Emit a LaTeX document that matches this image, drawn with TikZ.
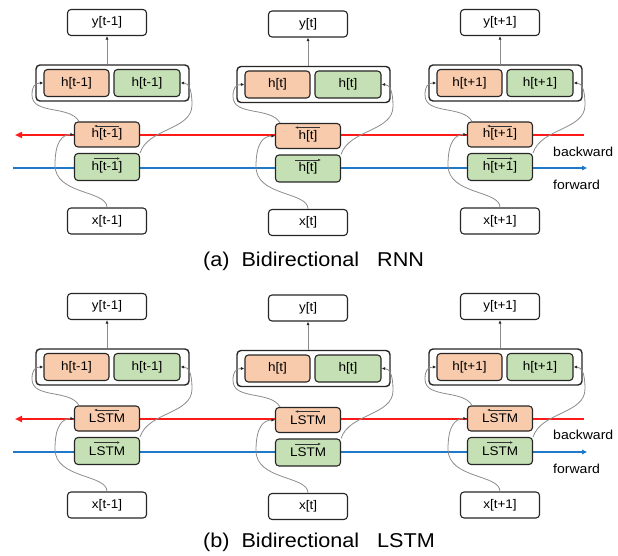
\documentclass[tikz,border=0pt]{standalone}
\usepackage{fontspec}
\setmainfont{Liberation Sans}[FakeStretch=1.08]
\usetikzlibrary{arrows.meta}
\definecolor{orf}{HTML}{F8CBAD}
\definecolor{grf}{HTML}{C5E0B4}
\definecolor{redl}{HTML}{FF1A1A}
\definecolor{bluel}{HTML}{1F78C8}
\definecolor{connc}{HTML}{8C8C8C}
\tikzset{
  box/.style={draw=black!85, line width=1.1pt, rounded corners=3.5pt, minimum width=79pt, minimum height=26pt, inner sep=0pt, fill=white, font=\fontsize{12.5}{14}\selectfont},
  outerbox/.style={draw=black!85, line width=1.4pt, rounded corners=4pt, minimum width=153pt, minimum height=36pt, inner sep=0pt, fill=white},
  obox/.style={box, fill=orf, minimum width=65pt, minimum height=27pt},
  gbox/.style={box, fill=grf, minimum width=66pt, minimum height=27pt},
  conn/.style={draw=connc, line width=0.8pt, -{Latex[length=3.5pt,width=3pt,color=black!85]}},
  dirarrow/.style={draw=black!80, line width=0.6pt, -{Latex[length=3pt,width=2.6pt]}},
  redline/.style={draw=redl, line width=1.8pt, -{Triangle[length=7pt,width=6pt]}},
  blueline/.style={draw=bluel, line width=1.8pt, -{Triangle[length=5pt,width=4.5pt]}},
  sidelabel/.style={anchor=west, inner sep=0pt, font=\fontsize{13}{15}\selectfont},
  caption/.style={anchor=west, inner sep=0pt, font=\fontsize{20}{23}\selectfont}
}
\newcommand\cellcol[8]{%
  \node[box] (y#1) at ({#2},{#3+22.5}) {#4};
  \node[outerbox] (out#1) at ({#2+5.5},{#3+83}) {};
  \node[obox] (ho#1) at ({#2-30.5},{#3+83}) {#5};
  \node[gbox] (hg#1) at ({#2+40},{#3+83}) {#5};
  \node[obox, minimum height=25pt] (bw#1) at ({#2},{#3+134.5}) {#7};
  \node[gbox, minimum width=65pt] (fw#1) at ({#2},{#3+167}) {#8};
  \node[box] (x#1) at ({#2},{#3+221}) {#6};
  \draw[dirarrow] ({#2+12},{#3+126}) -- ({#2-13},{#3+126});
  \draw[dirarrow] ({#2-13},{#3+158.5}) -- ({#2+13},{#3+158.5});
  \draw[conn] (out#1.north -| y#1.south) -- (y#1.south);
  \draw[conn] (x#1.north) .. controls ({#2},{#3+190}) and ({#2-52},{#3+195}) .. ({#2-52},{#3+165}) .. controls ({#2-52},{#3+142}) and ({#2-45},{#3+134.5}) .. (bw#1.west);
  \draw[conn] (bw#1.155) .. controls ({#2-37},{#3+105}) and ({#2-75},{#3+115}) .. ({#2-75},{#3+95}) .. controls ({#2-75},{#3+86}) and ({#2-72},{#3+83}) .. (ho#1.west);
  \draw[conn] (fw#1.north east) .. controls ({#2+41},{#3+128}) and ({#2+85},{#3+130}) .. ({#2+85},{#3+105}) .. controls ({#2+85},{#3+90}) and ({#2+82},{#3+83}) .. (hg#1.east);
}
\newcommand\lowtxt[1]{\raisebox{-1pt}{#1}}
\begin{document}
\begin{tikzpicture}[x=1pt,y=-1pt]
\useasboundingbox (0,0) rectangle (618,556);
% panel (a) lines
\coordinate (ra1) at (584,135);
\coordinate (ra2) at (15,135);
\coordinate (ba1) at (13,168);
\coordinate (ba2) at (587,168);
\draw[redline] (ra1) -- (ra2);
\draw[blueline] (ba1) -- (ba2);
\cellcol{1}{107}{0}{y[t-1]}{h[t-1]}{x[t-1]}{\lowtxt{h[t-1]}}{\lowtxt{h[t-1]}}
\cellcol{2}{308}{1.5}{y[t]}{h[t]}{x[t]}{\lowtxt{h[t]}}{\lowtxt{h[t]}}
\cellcol{3}{500}{0}{y[t+1]}{h[t+1]}{x[t+1]}{\lowtxt{h[t+1]}}{\lowtxt{h[t+1]}}
\node[sidelabel] (bwla) at (553,152) {backward};
\node[sidelabel] (fwla) at (553,185) {forward};
\node[caption] (capa) at (203,261) {(a)\hspace{12pt}Bidirectional\hspace{18pt}RNN};
% panel (b) lines
\coordinate (rb1) at (584,419);
\coordinate (rb2) at (15,419);
\coordinate (bb1) at (13,452);
\coordinate (bb2) at (587,452);
\draw[redline] (rb1) -- (rb2);
\draw[blueline] (bb1) -- (bb2);
\cellcol{4}{107}{284}{y[t-1]}{h[t-1]}{x[t-1]}{\lowtxt{LSTM}}{\lowtxt{LSTM}}
\cellcol{5}{308}{285.5}{y[t]}{h[t]}{x[t]}{\lowtxt{LSTM}}{\lowtxt{LSTM}}
\cellcol{6}{500}{284}{y[t+1]}{h[t+1]}{x[t+1]}{\lowtxt{LSTM}}{\lowtxt{LSTM}}
\node[sidelabel] (bwlb) at (553,435) {backward};
\node[sidelabel] (fwlb) at (553,469) {forward};
\node[caption] (capb) at (203,542) {(b)\hspace{12pt}Bidirectional\hspace{18pt}LSTM};
\end{tikzpicture}
\end{document}
